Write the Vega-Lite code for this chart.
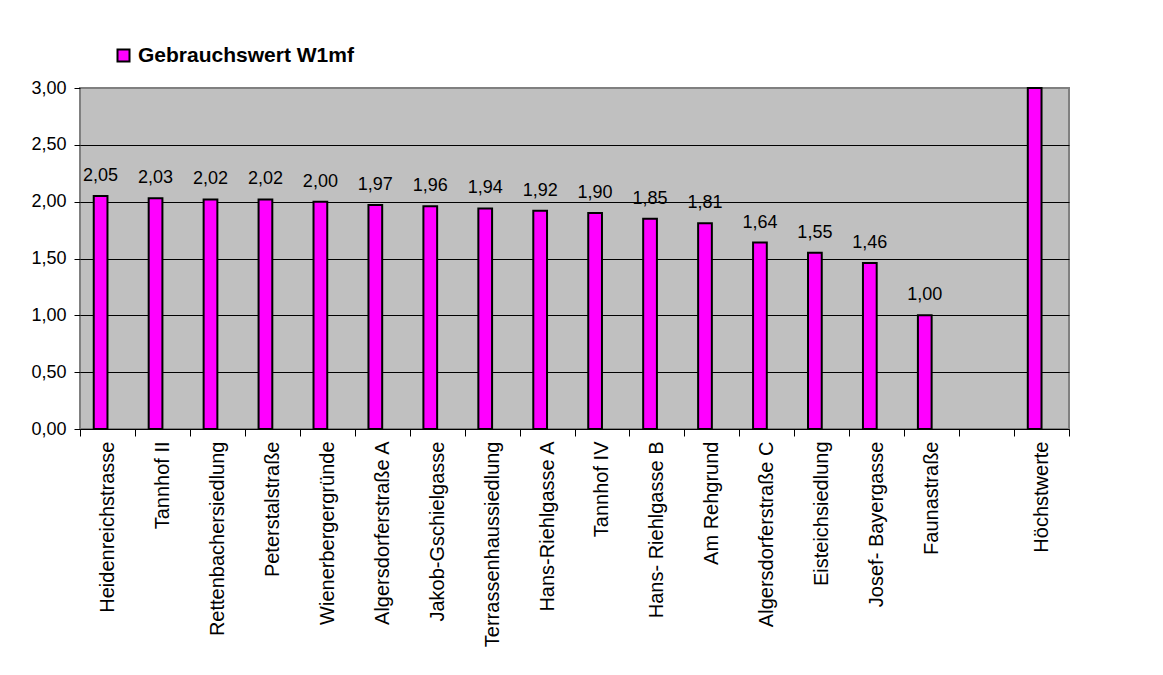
{
  "$schema": "https://vega.github.io/schema/vega-lite/v6.json",
  "width": 989,
  "height": 341,
  "autosize": {"type": "none"},
  "padding": {"left": 80, "top": 88, "right": 94, "bottom": 246},
  "background": "white",
  "config": {
    "font": "Liberation Sans",
    "locale": {"number": {"decimal": ",", "thousands": ".", "grouping": [3], "currency": ["", " €"]}},
    "view": {"fill": "#C0C0C0", "stroke": "#808080", "strokeWidth": 2}
  },
  "data": {
    "values": [
      {"Ort": "Heidenreichstrasse", "Reihe": "Gebrauchswert W1mf", "Wert": 2.05},
      {"Ort": "Tannhof II", "Reihe": "Gebrauchswert W1mf", "Wert": 2.03},
      {"Ort": "Rettenbachersiedlung", "Reihe": "Gebrauchswert W1mf", "Wert": 2.02},
      {"Ort": "Peterstalstraße", "Reihe": "Gebrauchswert W1mf", "Wert": 2.02},
      {"Ort": "Wienerbergergründe", "Reihe": "Gebrauchswert W1mf", "Wert": 2.00},
      {"Ort": "Algersdorferstraße A", "Reihe": "Gebrauchswert W1mf", "Wert": 1.97},
      {"Ort": "Jakob-Gschielgasse", "Reihe": "Gebrauchswert W1mf", "Wert": 1.96},
      {"Ort": "Terrassenhaussiedlung", "Reihe": "Gebrauchswert W1mf", "Wert": 1.94},
      {"Ort": "Hans-Riehlgasse A", "Reihe": "Gebrauchswert W1mf", "Wert": 1.92},
      {"Ort": "Tannhof IV", "Reihe": "Gebrauchswert W1mf", "Wert": 1.90},
      {"Ort": "Hans- Riehlgasse B", "Reihe": "Gebrauchswert W1mf", "Wert": 1.85},
      {"Ort": "Am Rehgrund", "Reihe": "Gebrauchswert W1mf", "Wert": 1.81},
      {"Ort": "Algersdorferstraße C", "Reihe": "Gebrauchswert W1mf", "Wert": 1.64},
      {"Ort": "Eisteichsiedlung", "Reihe": "Gebrauchswert W1mf", "Wert": 1.55},
      {"Ort": "Josef- Bayergasse", "Reihe": "Gebrauchswert W1mf", "Wert": 1.46},
      {"Ort": "Faunastraße", "Reihe": "Gebrauchswert W1mf", "Wert": 1.00},
      {"Ort": "Höchstwerte", "Reihe": "Gebrauchswert W1mf", "Wert": 3.00}
    ]
  },
  "encoding": {
    "x": {
      "field": "Ort",
      "type": "nominal",
      "sort": null,
      "scale": {
        "domain": ["Heidenreichstrasse", "Tannhof II", "Rettenbachersiedlung", "Peterstalstraße", "Wienerbergergründe", "Algersdorferstraße A", "Jakob-Gschielgasse", "Terrassenhaussiedlung", "Hans-Riehlgasse A", "Tannhof IV", "Hans- Riehlgasse B", "Am Rehgrund", "Algersdorferstraße C", "Eisteichsiedlung", "Josef- Bayergasse", "Faunastraße", " ", "Höchstwerte"],
        "paddingInner": 0,
        "paddingOuter": 0
      },
      "axis": {
        "title": null,
        "labelAngle": 270,
        "labelAlign": "right",
        "labelBaseline": "middle",
        "labelFontSize": 20,
        "labelColor": "black",
        "tickBand": "extent",
        "tickColor": "black",
        "tickSize": 7,
        "domain": false,
        "labelPadding": 5,
        "grid": false,
        "labelLimit": 400
      }
    },
    "xOffset": {
      "field": "Reihe",
      "type": "nominal",
      "scale": {"domain": ["Gebrauchswert W1mf", "leer"], "paddingInner": 0, "paddingOuter": 1.54}
    },
    "y": {
      "field": "Wert",
      "type": "quantitative",
      "scale": {"domain": [0, 3], "nice": false, "zero": true},
      "axis": {
        "title": null,
        "values": [0, 0.5, 1, 1.5, 2, 2.5, 3],
        "format": ".2f",
        "labelFontSize": 18,
        "labelColor": "black",
        "tickColor": "black",
        "tickSize": 6,
        "labelPadding": 8,
        "domain": false,
        "grid": true,
        "gridColor": {"condition": {"test": "datum.value === 3", "value": "#808080"}, "value": "black"},
        "gridOpacity": 1,
        "gridWidth": 1
      }
    }
  },
  "layer": [
    {
      "mark": {"type": "bar", "stroke": "black", "strokeWidth": 2},
      "encoding": {
        "color": {
          "field": "Reihe",
          "type": "nominal",
          "scale": {"domain": ["Gebrauchswert W1mf"], "range": ["#FF00FF"]},
          "legend": {
            "title": null,
            "orient": "none",
            "legendX": 33,
            "legendY": -43,
            "padding": 0,
            "symbolType": "square",
            "symbolSize": 144,
            "symbolStrokeColor": "black",
            "symbolStrokeWidth": 2,
            "symbolOpacity": 1,
            "labelFontWeight": "bold",
            "labelFontSize": 21,
            "labelColor": "black",
            "labelOffset": 4,
            "labelLimit": 400
          }
        }
      }
    },
    {
      "transform": [{"filter": "datum.Ort !== 'Höchstwerte'"}],
      "mark": {"type": "text", "dy": -15, "fontSize": 18, "color": "black", "baseline": "alphabetic"},
      "encoding": {
        "text": {"field": "Wert", "type": "quantitative", "format": ".2f"}
      }
    }
  ]
}
